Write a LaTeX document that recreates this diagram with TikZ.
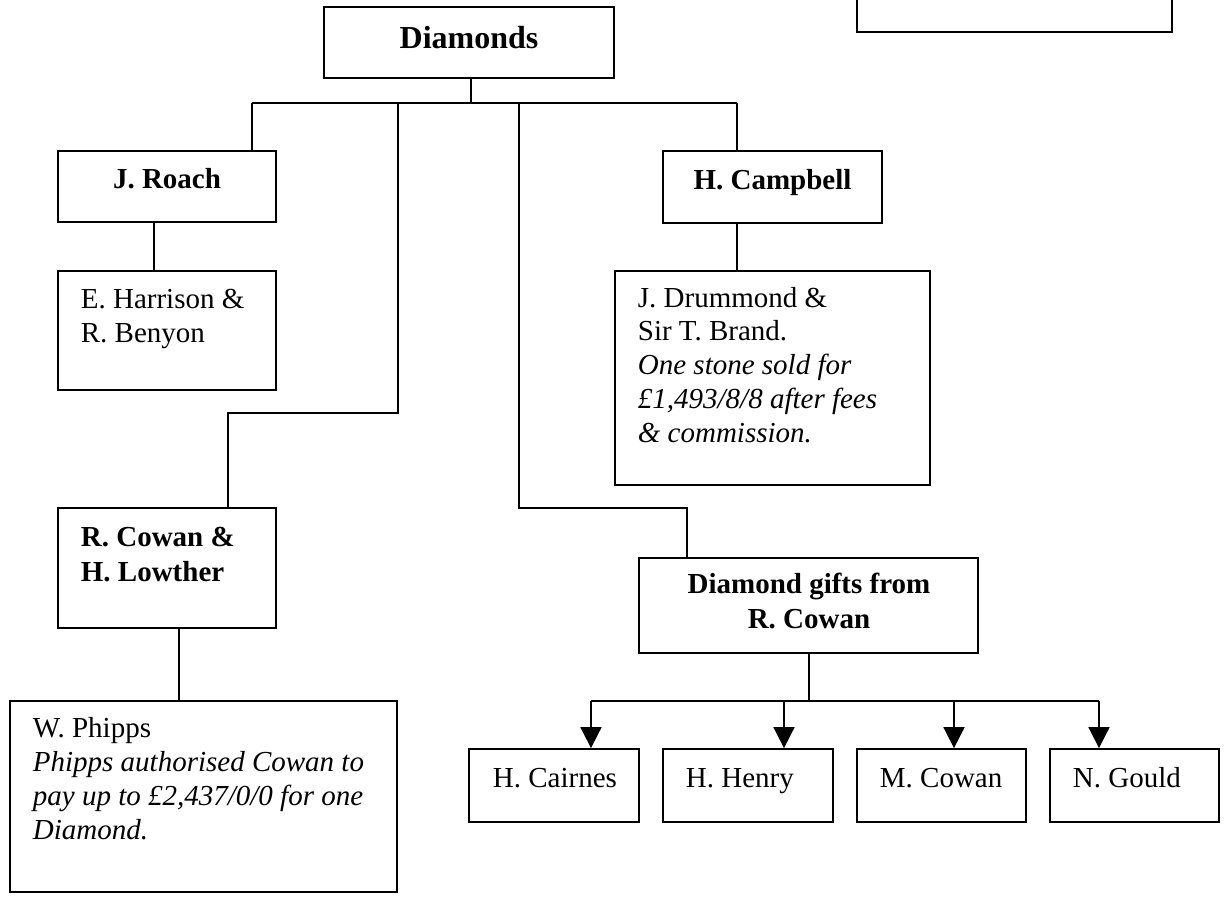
\documentclass[tikz,border=0pt]{standalone}
\usepackage{fontspec}
\setmainfont{Liberation Serif}
\usetikzlibrary{arrows.meta}
\begin{document}
\begin{tikzpicture}[x=1pt,y=-1pt, line width=1.8pt,
  box/.style={draw, rectangle, inner sep=0pt},
  txt/.style={inner sep=0pt, anchor=base west, font=\fontsize{29}{34}\selectfont},
  ctxt/.style={inner sep=0pt, anchor=base, font=\bfseries\fontsize{29}{34}\selectfont},
  arr/.style={-{Triangle[width=21pt,length=21pt]}}]

\useasboundingbox (0,0) rectangle (1224,900);

% boxes
\node[box, minimum width=315pt, minimum height=52pt] (note) at (1014.5,6) {};
\node[box, minimum width=290pt, minimum height=71pt] (diamonds) at (469,42.5) {};
\node[box, minimum width=218pt, minimum height=71pt] (roach) at (167,186.5) {};
\node[box, minimum width=218pt, minimum height=119pt] (harrison) at (167,330.5) {};
\node[box, minimum width=219pt, minimum height=72pt] (campbell) at (772.5,187) {};
\node[box, minimum width=315pt, minimum height=214pt] (drummond) at (772.5,378) {};
\node[box, minimum width=218pt, minimum height=120pt] (cowan) at (167,568) {};
\node[box, minimum width=387pt, minimum height=191pt] (phipps) at (203.5,796.5) {};
\node[box, minimum width=339pt, minimum height=95pt] (gifts) at (808.5,605.5) {};
\node[box, minimum width=170pt, minimum height=73pt] (cairnes) at (554,785.5) {};
\node[box, minimum width=170pt, minimum height=73pt] (henry) at (748,785.5) {};
\node[box, minimum width=169pt, minimum height=73pt] (mcowan) at (941.5,785.5) {};
\node[box, minimum width=169pt, minimum height=73pt] (gould) at (1134.5,785.5) {};

% texts
\node[ctxt, font=\bfseries\fontsize{32}{36}\selectfont] (tdiamonds) at (469,48) {Diamonds};
\node[ctxt] (troach) at (167,188) {J. Roach};
\node[ctxt] (tcampbell) at (772.5,189) {H. Campbell};
\node[txt] (tharrison) at (80,308) {\parbox[t]{190pt}{\raggedright E. Harrison \&\\R. Benyon}};
\node[txt, font=\fontsize{29}{33.75}\selectfont] (tdrummond) at (637,307) {\parbox[t]{290pt}{\raggedright J. Drummond \&\\Sir T. Brand.\\\itshape One stone sold for\\£1,493/8/8 after fees\\\& commission.}};
\node[txt, font=\bfseries\fontsize{29}{35}\selectfont] (tcowan) at (80,546) {\parbox[t]{190pt}{\raggedright R. Cowan \&\\H. Lowther}};
\node[txt] (tphipps) at (32,737) {\parbox[t]{360pt}{\raggedright W. Phipps\\\itshape Phipps authorised Cowan to\\pay up to £2,437/0/0 for one\\Diamond.}};
\node[ctxt, font=\bfseries\fontsize{29}{35}\selectfont] (tgifts) at (809,593) {\parbox[t]{320pt}{\centering Diamond gifts from\\R. Cowan}};
\node[txt] (tcairnes) at (492,787) {H. Cairnes};
\node[txt] (thenry) at (685,787) {H. Henry};
\node[txt] (tmcowan) at (879,787) {M. Cowan};
\node[txt] (tgould) at (1072,787) {N. Gould};

% junction coordinates
\coordinate (busL) at (252,103);
\coordinate (busR) at (737,103);
\coordinate (tapA) at (398,103);
\coordinate (tapB) at (519,103);
\coordinate (bendA) at (228,413);
\coordinate (bendB) at (687,508);
\coordinate (gbus) at (809,701);
\coordinate (a1) at (591,701);
\coordinate (a2) at (784,701);
\coordinate (a3) at (954,701);
\coordinate (a4) at (1099,701);

% connectors
\draw ([xshift=2pt]diamonds.south) -- ([xshift=2pt]diamonds.south |- busL);
\draw (busL) -- (busR);
\draw (busL) -- (busL |- roach.north);
\draw (busR) -- (busR |- campbell.north);
\draw (tapA) |- (bendA) -- (bendA |- cowan.north);
\draw (tapB) |- (bendB) -- (bendB |- gifts.north);
\draw ([xshift=-13pt]roach.south) -- ([xshift=-13pt]harrison.north);
\draw ([xshift=-35.5pt]campbell.south) -- ([xshift=-35.5pt]drummond.north);
\draw ([xshift=12pt]cowan.south) -- ([xshift=12pt]cowan.south |- phipps.north);
\draw (gbus |- gifts.south) -- (gbus);
\draw (a1) -- (a4);
\draw[arr] (a1) -- (a1 |- cairnes.north);
\draw[arr] (a2) -- (a2 |- henry.north);
\draw[arr] (a3) -- (a3 |- mcowan.north);
\draw[arr] (a4) -- (a4 |- gould.north);
\end{tikzpicture}
\end{document}
